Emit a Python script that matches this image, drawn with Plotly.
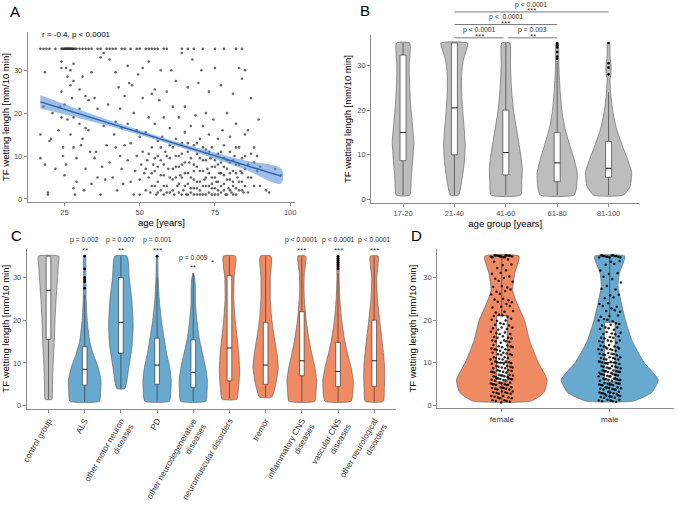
import plotly.graph_objects as go

FONT = "Liberation Sans, Arial, sans-serif"
W, H = 677, 506

# ---------------- Panel A: age vs TF wetting length ----------------
a_top_ages = [17, 18, 19, 20, 22, 24, 24.3, 24.6, 25, 25.2, 25.4, 25.6, 25.8, 26, 26.2,
              26.4, 26.6, 26.8, 27, 27.2, 27.5, 27.8, 28, 28.5, 29, 30, 31, 32, 33, 34,
              36, 37, 39, 40, 41, 42, 44, 45, 47, 49, 50, 52, 53, 54, 55, 56, 58, 59,
              64, 66, 68, 71, 75, 78, 82, 84]
a_points = [
    (17, 15), (17, 9.5), (18, 21.5), (18.5, 29.5), (18.5, 8), (19.5, 1.5), (19.5, 1), (20, 13.5),
    (20.5, 14), (21, 20), (22, 7), (23, 16), (23.5, 21.5), (24, 25), (24, 30.5), (24, 32), (24, 19),
    (24.5, 10), (24.5, 12), (25, 5.5), (25, 22), (25.5, 8), (25.5, 30.5), (26, 28.5), (26, 18.5),
    (27, 30), (27, 26.5), (27, 15), (27.5, 23.5), (28, 27.5), (28, 31.5), (28, 19), (28, 12),
    (28.5, 1), (28, 2.5), (29, 9.5), (29, 4), (30, 25.5), (30, 21), (30, 17.5), (30.5, 12.5),
    (31, 28.5), (31, 14), (31.5, 2), (32, 24), (32, 16.5), (32, 7), (33, 23), (33, 16), (33.5, 11),
    (34, 29.5), (34, 3.5), (35, 23.5), (35, 9.5), (35.5, 11), (36, 5), (36, 21), (37, 33), (37, 1),
    (37.5, 7.5), (38, 17), (38, 34), (38.5, 4.5), (39, 12.5), (39.5, 22), (40, 8.5), (40, 32.5),
    (41, 5), (41.5, 15), (42, 29.5), (42, 18), (42, 12), (42.5, 2), (43, 26), (43.5, 21), (43.5, 10),
    (44, 16.5), (44, 7), (44.5, 3.5), (45, 24), (45, 12.5), (46, 31), (46, 17.5), (46, 9), (46.5, 27),
    (47, 4), (47, 13), (47.5, 26.5), (48, 20), (48, 1), (48.5, 6.5), (49, 16), (49, 10), (49.5, 29),
    (50, 1), (50, 14.5), (50, 4.5), (50.5, 8), (51, 23.5), (51, 30.5), (51, 11), (51.5, 6), (52, 2),
    (52, 15.5), (52.5, 9), (53, 32), (53, 5), (53, 19), (53.5, 1.5), (54, 12), (54, 24.5), (54, 3),
    (54.5, 8), (55, 25.5), (55, 17.5), (55, 6.5), (55.5, 1), (56, 13.5), (56, 10), (56, 4), (56.5, 23),
    (57, 2), (57, 9), (57, 30), (57.5, 14.5), (58, 19), (58, 5.5), (58, 1), (58.5, 11), (59, 25),
    (59, 3), (59.5, 7), (60, 16.5), (60, 1.5), (60, 9.5), (60.5, 30), (61, 12), (61, 4.5), (61, 21.5),
    (61.5, 1), (62, 7.5), (62, 27.5), (62, 14), (62.5, 3), (63, 10), (63, 19), (63, 1.5), (63.5, 5.5),
    (64, 34), (64, 13), (64, 8), (64.5, 2), (65, 21.5), (65, 6), (65, 15.5), (65.5, 1), (66, 11),
    (66, 3.5), (66, 26), (66.5, 8.5), (67, 17), (67, 1.5), (67, 5), (67.5, 32.5), (68, 12.5), (68, 2.5),
    (68, 8), (68.5, 19.5), (69, 4), (69, 10.5), (69, 1), (69.5, 27), (70, 14), (70, 6.5), (70, 2),
    (70.5, 30), (71, 9), (71, 17), (71, 1), (71.5, 4.5), (72, 20), (72, 11.5), (72, 3), (72.5, 7),
    (73, 1.5), (73, 15), (73, 25), (73.5, 9.5), (74, 5), (74, 2.5), (74, 12), (74.5, 18.5), (75, 7.5),
    (75, 1), (75, 30.5), (75.5, 4), (76, 10.5), (76, 14), (76, 2), (76.5, 6), (77, 26.5), (77, 1.5),
    (77, 8.5), (77.5, 16), (78, 3.5), (78, 12.5), (78, 5.5), (78.5, 1), (79, 20), (79, 9), (79, 7),
    (79.5, 2.5), (80, 11), (80, 4.5), (80, 14.5), (80.5, 1.5), (81, 6.5), (81, 24.5), (81, 3), (81.5, 10),
    (82, 1), (82, 17.5), (82, 8), (82.5, 5), (83, 30.5), (83, 12), (83, 2), (83.5, 6.5), (84, 28),
    (84, 4), (84, 9.5), (84.5, 1.5), (85, 15), (85, 7), (85, 30), (86, 5), (86, 16), (87, 23.5),
    (87, 10.5), (88, 3), (88, 8.5), (89, 10), (89.5, 18.5), (90, 7.5), (92, 2), (93, 1.5), (95, 7),
    (97, 5.5),
    (52, 7), (53, 10.5), (54, 6), (55, 3), (55, 9.5), (56, 7.5), (56, 1.5), (57, 5.5), (57, 12), (58, 8),
    (58, 3), (59, 10), (59, 1.5), (60, 5), (60, 12.5), (61, 7), (61, 2), (62, 10), (62, 5), (63, 3.5),
    (63, 7.5), (64, 1), (64, 5), (64, 10.5), (65, 3), (65, 8.5), (66, 1), (66, 6), (66, 13), (67, 2.5),
    (67, 9.5), (68, 4.5), (68, 1), (68, 6.5), (69, 7.5), (69, 2.5), (69, 13), (70, 4), (70, 9.5), (70, 1),
    (71, 3), (71, 6.5), (71, 12), (72, 1), (72, 5), (72, 9), (73, 3), (73, 6), (73, 11), (74, 1),
    (74, 7.5), (74, 3.5), (75, 5), (75, 2.5), (75, 9), (76, 1), (76, 4), (76, 8), (77, 3), (77, 6),
    (77, 11), (78, 2), (78, 7.5), (78, 9.5), (79, 1), (79, 4.5), (80, 2), (80, 6), (80, 8.5), (81, 1),
    (81, 4), (81, 9), (82, 2.5), (82, 6), (82, 12), (83, 4), (83, 8), (84, 2), (84, 6), (85, 3),
    (85, 10), (86, 1.5), (86, 8), (87, 5), (88, 12), (89, 6.5), (90, 3),
]
a_fit_age = [17, 30, 45, 57, 70, 85, 97]
a_fit_tf = [22.6, 19.79, 16.55, 13.95, 11.14, 7.9, 5.3]
a_ci_half = [1.55, 1.0, 0.6, 0.5, 0.6, 1.05, 1.7]
a_label = "r = -0.4, p < 0.0001"

# ---------------- Panel B: age groups ----------------
b_groups = ["17-20", "21-40", "41-60", "61-80", "81-100"]
b_levels = [
    [1, 5, 9, 13, 17, 21, 25, 30, 35],
    [1, 4, 8, 12, 16, 20, 24, 28, 31, 33, 35],
    [1, 4, 7, 10, 15, 20, 25, 30, 35],
    [1, 3, 6, 9, 12, 16, 20, 24, 28, 32, 35],
    [1, 3, 6, 9, 12, 16, 20, 24, 27, 28.5, 30, 32, 35],
]
b_density = [
    [0.13, 0.16, 0.19, 0.21, 0.18, 0.15, 0.13, 0.12, 0.13],
    [0.08, 0.14, 0.19, 0.21, 0.19, 0.16, 0.14, 0.14, 0.17, 0.22, 0.26],
    [0.29, 0.31, 0.32, 0.29, 0.22, 0.15, 0.11, 0.09, 0.08],
    [0.33, 0.38, 0.39, 0.33, 0.25, 0.15, 0.09, 0.06, 0.04, 0.03, 0.02],
    [0.29, 0.42, 0.45, 0.37, 0.27, 0.15, 0.08, 0.04, 0.03, 0.05, 0.05, 0.03, 0.02],
]
b_q1 = [8.7, 10, 5.5, 4, 5]
b_med = [15, 20.5, 10.5, 8.2, 7]
b_q3 = [32.3, 35, 20, 15, 13]
b_lo = [1, 1, 1, 1, 1]
b_hi = [35, 35, 35, 31, 24]
b_out_group = [3, 3, 3, 3, 3, 3, 4, 4, 4, 4]
b_out_val = [35, 34.5, 34, 33, 32, 31.5, 35, 30.5, 29.5, 28]
b_comparisons = [(1, 1.96, "p < 0.0001", "***"), (2.04, 3, "p = 0.003", "**"),
                 (1, 3, "p <  0.0001", "***"), (1, 4, "p < 0.0001", "***")]

# ---------------- Panel C: diagnosis groups ----------------
c_groups = ["control group", "ALS", "other motor neuron<br>diseases", "PD",
            "other neurodegenerative<br>diseases", "neuromuscular disorders", "tremor",
            "inflammatory CNS<br>diseases", "vascular CNS<br>diseases",
            "other neurological<br>disorders"]
c_kind = ["control", "neuro", "neuro", "neuro", "neuro", "other", "other", "other", "other", "other"]
c_levels = [
    [1.5, 5, 10, 15, 20, 25, 30, 33, 35],
    [1, 3, 6, 9, 12, 15, 20, 25, 30, 35],
    [4, 9, 14, 19, 25, 30, 35],
    [1, 3, 6, 9, 12, 15, 20, 25, 30, 35],
    [1, 3, 6, 9, 12, 16, 20, 24, 27, 29, 31],
    [1.5, 4, 8, 12, 16, 20, 25, 30, 35],
    [2, 5, 9, 13, 17, 21, 25, 30, 35],
    [1, 3, 6, 9, 12, 15, 20, 25, 28, 31, 35],
    [1, 3, 6, 9, 12, 15, 20, 25, 30, 33, 35],
    [1, 4, 7, 10, 15, 20, 25, 30, 35],
]
c_density = [
    [0.09, 0.11, 0.13, 0.16, 0.18, 0.21, 0.25, 0.27, 0.28],
    [0.41, 0.44, 0.45, 0.37, 0.24, 0.14, 0.07, 0.04, 0.03, 0.02],
    [0.11, 0.22, 0.31, 0.34, 0.30, 0.23, 0.17],
    [0.34, 0.38, 0.39, 0.35, 0.27, 0.21, 0.12, 0.06, 0.03, 0.01],
    [0.35, 0.38, 0.39, 0.34, 0.26, 0.16, 0.10, 0.06, 0.06, 0.05, 0.01],
    [0.20, 0.25, 0.28, 0.26, 0.21, 0.16, 0.12, 0.13, 0.17],
    [0.17, 0.28, 0.35, 0.30, 0.22, 0.16, 0.13, 0.13, 0.15],
    [0.36, 0.39, 0.41, 0.36, 0.28, 0.21, 0.12, 0.07, 0.06, 0.07, 0.11],
    [0.36, 0.41, 0.42, 0.36, 0.27, 0.19, 0.10, 0.05, 0.03, 0.03, 0.02],
    [0.25, 0.28, 0.29, 0.28, 0.22, 0.15, 0.09, 0.07, 0.11],
]
c_q1 = [15.5, 4.8, 12.3, 5, 4.3, 5.8, 5, 7, 4.5, 4.5]
c_med = [27, 8.5, 19.5, 9.5, 7.8, 13.5, 9.5, 10.5, 8, 10.5]
c_q3 = [35, 13.8, 30, 15.8, 15.4, 30.5, 19.5, 22, 14.8, 20]
c_lo = [1.5, 1, 4, 1, 1, 1.5, 2, 1, 1, 1]
c_hi = [35, 26, 35, 30, 31, 35, 35, 35, 31, 35]
c_out_group = [1, 1, 1, 1, 1, 1, 3, 8, 8, 8, 8, 8, 8, 8]
c_out_val = [35, 32, 30, 29.5, 29, 27.5, 35, 35, 34.5, 34, 33.5, 33, 32.5, 32]
c_pvals = {1: ("p = 0.002", "**"), 2: ("p = 0.007", "**"), 3: ("p = 0.001", "***"),
           7: ("p < 0.0001", "***"), 8: ("p < 0.0001", "***"), 9: ("p < 0.0001", "***")}
c_pval_low = (4, "p = 0.009", "**")
c_star_only = (4.53, "*")

# ---------------- Panel D: sex ----------------
d_groups = ["female", "male"]
d_levels = [
    [1, 3, 6, 10, 15, 20, 24, 27, 31, 35],
    [1, 3, 6, 10, 15, 20, 25, 28, 31, 35],
]
d_density = [
    [0.27, 0.39, 0.42, 0.34, 0.26, 0.21, 0.14, 0.10, 0.12, 0.16],
    [0.22, 0.39, 0.45, 0.32, 0.21, 0.145, 0.10, 0.077, 0.09, 0.14],
]
d_q1 = [5.5, 5.5]
d_med = [10, 10]
d_q3 = [21, 19.5]
d_lo = [1, 1]
d_hi = [35, 35]
d_values = list(range(1, 36))
d_female_counts = [6, 7, 8, 9, 10, 10, 9, 9, 8, 8, 7, 7, 6, 6, 6, 5, 5, 5, 4, 4, 4, 3, 3, 3,
                   3, 2, 3, 3, 2, 3, 2, 2, 2, 2, 16]
d_male_counts = [7, 8, 9, 10, 11, 11, 11, 10, 9, 9, 8, 7, 7, 6, 6, 5, 5, 5, 4, 4, 3, 3, 3, 2,
                 2, 2, 2, 1, 1, 2, 2, 1, 2, 2, 14]

# ---------------- colours ----------------
GRAY = "#bdbdbd"
BLUE = "#67a9cf"
ORANGE = "#ef8a62"
OUTLINE = "#555555"
AXIS = "#8c8c8c"
TICKTXT = "#4d4d4d"


def px_x(p):
    return p / W


def px_y(p):
    return 1 - p / H


def violin_trace(center, levels, dens, color, xa, ya):
    xs = [center + w for w in dens] + [center - w for w in reversed(dens)] + [center + dens[0]]
    ys = list(levels) + list(reversed(levels)) + [levels[0]]
    return go.Scatter(x=xs, y=ys, mode="lines", fill="toself", fillcolor=color,
                      line=dict(color=OUTLINE, width=0.6, shape="spline", smoothing=0.5),
                      xaxis=xa, yaxis=ya, hoverinfo="skip", showlegend=False)


def box_traces(q1, med, q3, lo, hi, half, xa, ya, show_median=True):
    wx, wy, bx, by, mx, my = [], [], [], [], [], []
    for i in range(len(q1)):
        wx += [i, i, None, i, i, None]
        wy += [lo[i], q1[i], None, q3[i], hi[i], None]
        bx += [i - half, i + half, i + half, i - half, i - half, None]
        by += [q1[i], q1[i], q3[i], q3[i], q1[i], None]
        mx += [i - half, i + half, None]
        my += [med[i], med[i], None]
    out = [
        go.Scatter(x=wx, y=wy, mode="lines", line=dict(color="#3c3c3c", width=0.7),
                   xaxis=xa, yaxis=ya, hoverinfo="skip", connectgaps=False),
        go.Scatter(x=bx, y=by, mode="lines", fill="toself", fillcolor="white",
                   line=dict(color="#262626", width=0.6), xaxis=xa, yaxis=ya, hoverinfo="skip"),
    ]
    if show_median:
        out.append(go.Scatter(x=mx, y=my, mode="lines", line=dict(color="#1a1a1a", width=1.0),
                              xaxis=xa, yaxis=ya, hoverinfo="skip"))
    return out


fig = go.Figure()

# ---- Panel A ----
fig.add_trace(go.Scatter(x=a_top_ages, y=[35] * len(a_top_ages), mode="markers",
                         marker=dict(size=2.6, color="#333333", opacity=0.8),
                         xaxis="x", yaxis="y", hoverinfo="skip"))
fig.add_trace(go.Scatter(x=[p[0] for p in a_points], y=[p[1] for p in a_points], mode="markers",
                         marker=dict(size=2.6, color="#333333", opacity=0.75),
                         xaxis="x", yaxis="y", hoverinfo="skip"))
upper = [f + c for f, c in zip(a_fit_tf, a_ci_half)]
lower = [f - c for f, c in zip(a_fit_tf, a_ci_half)]
fig.add_trace(go.Scatter(x=a_fit_age + a_fit_age[::-1], y=upper + lower[::-1], fill="toself",
                         fillcolor="rgba(92,146,214,0.6)", line=dict(width=0, shape="spline"),
                         mode="lines", xaxis="x", yaxis="y", hoverinfo="skip"))
fig.add_trace(go.Scatter(x=[a_fit_age[0], a_fit_age[-1]], y=[a_fit_tf[0], a_fit_tf[-1]],
                         mode="lines", line=dict(color="#2a63ad", width=1.4),
                         xaxis="x", yaxis="y", hoverinfo="skip"))

# ---- Panel B ----
for i in range(len(b_groups)):
    fig.add_trace(violin_trace(i, b_levels[i], b_density[i], GRAY, "x2", "y2"))
for t in box_traces(b_q1, b_med, b_q3, b_lo, b_hi, 0.058, "x2", "y2"):
    fig.add_trace(t)
fig.add_trace(go.Scatter(x=b_out_group, y=b_out_val, mode="markers",
                         marker=dict(size=2.6, color="black"), xaxis="x2", yaxis="y2",
                         hoverinfo="skip"))

# ---- Panel C ----
kind_color = {"control": GRAY, "neuro": BLUE, "other": ORANGE}
for i in range(len(c_groups)):
    fig.add_trace(violin_trace(i, c_levels[i], c_density[i], kind_color[c_kind[i]], "x3", "y3"))
for t in box_traces(c_q1, c_med, c_q3, c_lo, c_hi, 0.064, "x3", "y3"):
    fig.add_trace(t)
fig.add_trace(go.Scatter(x=c_out_group, y=c_out_val, mode="markers",
                         marker=dict(size=2.8, color="black"), xaxis="x3", yaxis="y3",
                         hoverinfo="skip"))

# ---- Panel D ----
d_colors = [ORANGE, BLUE]
for i in range(2):
    fig.add_trace(violin_trace(i, d_levels[i], d_density[i], d_colors[i], "x4", "y4"))
for t in box_traces(d_q1, d_med, d_q3, d_lo, d_hi, 0.05, "x4", "y4"):
    fig.add_trace(t)
for gi, counts in enumerate([d_female_counts, d_male_counts]):
    xs, ys = [], []
    k = 0
    for v, c in zip(d_values, counts):
        for _ in range(c):
            k += 1
            jx = ((k * 0.6180339887 + gi * 0.31) % 1 - 0.5) * 0.21
            jy = ((k * 0.7548776662 + gi * 0.17) % 1 - 0.5) * 0.7
            xs.append(gi + jx)
            ys.append(min(35.2, max(0.6, v + jy)))
    fig.add_trace(go.Scatter(x=xs, y=ys, mode="markers",
                             marker=dict(size=2.5, color="black", opacity=0.85),
                             xaxis="x4", yaxis="y4", hoverinfo="skip"))

# ---------------- axes ----------------
tick_font = dict(family=FONT, size=7.5, color=TICKTXT)
title_font = dict(family=FONT, size=9.5, color="black")


def ax(**kw):
    base = dict(showline=True, linecolor=AXIS, linewidth=1, ticks="outside", ticklen=3,
                tickcolor=AXIS, tickwidth=1, showgrid=False, zeroline=False,
                tickfont=tick_font, title_font=title_font)
    base.update(kw)
    return base


ytitle = "TF wetting length [mm/10 min]"
layout = dict(
    width=W, height=H, margin=dict(l=0, r=0, t=0, b=0),
    paper_bgcolor="white", plot_bgcolor="white", showlegend=False,
    font=dict(family=FONT),
    xaxis=ax(domain=[px_x(22), px_x(292)], range=[12.8, 101.6], tickvals=[25, 50, 75, 100],
             anchor="y", title=dict(text="age [years]", standoff=1)),
    yaxis=ax(domain=[px_y(208.3), px_y(33)], range=[-0.75, 38.9], tickvals=[0, 10, 20, 30],
             anchor="x", title=dict(text=ytitle, standoff=4)),
    xaxis2=ax(domain=[px_x(369), px_x(640)], range=[-0.62, 4.6], tickvals=list(range(5)),
              ticktext=b_groups, anchor="y2", title=dict(text="age group [years]", standoff=2)),
    yaxis2=ax(domain=[px_y(208.9), px_y(36.5)], range=[-0.7, 36.7], tickvals=[0, 10, 20, 30],
              anchor="x2", title=dict(text=ytitle, standoff=4)),
    xaxis3=ax(domain=[px_x(21), px_x(394)], range=[-0.6, 9.6], tickvals=list(range(10)),
              ticktext=c_groups, tickangle=-60, anchor="y3",
              tickfont=dict(family=FONT, size=8.4, color="#333333")),
    yaxis3=ax(domain=[px_y(421.1), px_y(256.5)], range=[-0.7, 36.7], tickvals=[0, 10, 20, 30],
              anchor="x3", title=dict(text=ytitle, standoff=4)),
    xaxis4=ax(domain=[px_x(435.6), px_x(675.4)], range=[-0.6, 1.6], tickvals=[0, 1],
              ticktext=d_groups, anchor="y4",
              tickfont=dict(family=FONT, size=8, color="#333333")),
    yaxis4=ax(domain=[px_y(420.8), px_y(256.6)], range=[-0.7, 36.7], tickvals=[0, 10, 20, 30],
              anchor="x4", title=dict(text=ytitle, standoff=4)),
)
fig.update_layout(**layout)

ann = []
shapes = []
small = dict(family=FONT, size=6.8, color="#333333")
stars = dict(family=FONT, size=8, color="#333333")

# panel letters
for letter, x, y in [("A", 2, 1), ("B", 356, 0), ("C", 3, 232), ("D", 407, 232)]:
    ann.append(dict(text=letter, x=px_x(x), y=px_y(y), xref="paper", yref="paper",
                    xanchor="left", yanchor="top", showarrow=False,
                    font=dict(family=FONT, size=15, color="black")))

# panel A correlation label
ann.append(dict(text=a_label, x=17, y=38.3, xref="x", yref="y", xanchor="left",
                yanchor="middle", showarrow=False, font=dict(family=FONT, size=8, color="black")))

# panel B brackets
b_line_px = [39, 39, 25.3, 12.3]
for (x0, x1, lab, st), ly in zip(b_comparisons, b_line_px):
    shapes.append(dict(type="line", xref="x2", yref="paper", x0=x0, x1=x1,
                       y0=px_y(ly), y1=px_y(ly), line=dict(color="#555555", width=0.8)))
    xm = (x0 + x1) / 2
    ann.append(dict(text=lab, x=xm, y=px_y(ly - 7.6), xref="x2", yref="paper",
                    showarrow=False, yanchor="middle", font=small))
    ann.append(dict(text=st, x=xm, y=px_y(ly - 1.3), xref="x2", yref="paper",
                    showarrow=False, yanchor="middle", font=stars))

# panel C significance
for gi, (lab, st) in c_pvals.items():
    ann.append(dict(text=lab, x=gi, y=px_y(247.5), xref="x3", yref="paper",
                    showarrow=False, yanchor="middle", font=small))
    ann.append(dict(text=st, x=gi, y=px_y(258.5), xref="x3", yref="paper",
                    showarrow=False, yanchor="middle", font=stars))
gi, lab, st = c_pval_low
ann.append(dict(text=lab, x=gi, y=px_y(266), xref="x3", yref="paper",
                showarrow=False, yanchor="middle", font=small))
ann.append(dict(text=st, x=gi, y=px_y(275.5), xref="x3", yref="paper",
                showarrow=False, yanchor="middle", font=stars))
ann.append(dict(text=c_star_only[1], x=c_star_only[0], y=px_y(271), xref="x3", yref="paper",
                showarrow=False, yanchor="middle", font=stars))

fig.update_layout(annotations=ann, shapes=shapes)
fig.write_html("out.html", config={"displayModeBar": False},
               post_script="document.body.style.margin='0';")
